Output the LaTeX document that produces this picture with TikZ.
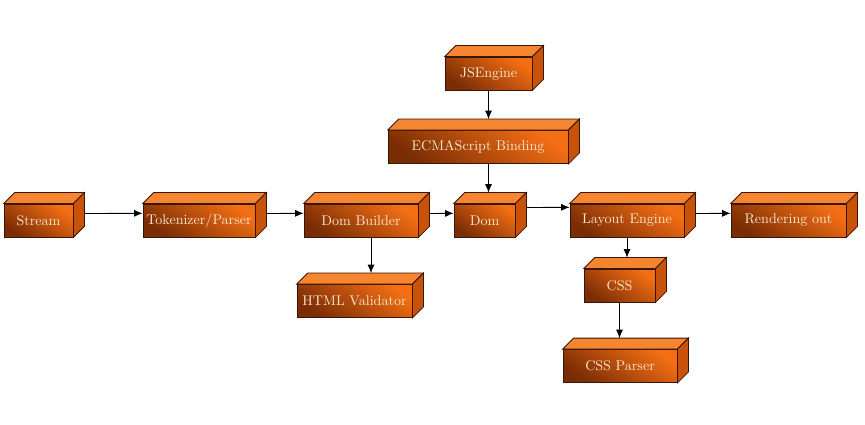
\documentclass[tikz,border=0pt]{standalone}
\usetikzlibrary{arrows.meta}

\definecolor{boxdark}{HTML}{7A2C04}
\definecolor{boxlight}{HTML}{F36E14}
\definecolor{boxtop}{HTML}{F5852E}
\definecolor{boxside}{HTML}{C9520A}
\definecolor{boxline}{HTML}{3A1606}
\definecolor{boxtext}{HTML}{F6E7CC}

\begin{document}
\begin{tikzpicture}[
x=0.025cm, y=-0.025cm,
block/.style={
draw=boxline,
line width=0.6pt,
top color=boxlight,
bottom color=boxdark,
shading angle=-35,
text=boxtext,
font=\fontsize{10}{12}\selectfont,
inner sep=0pt,
minimum height=33*0.025cm,
minimum width=#1*0.025cm
},
topface/.style={draw=boxline, line width=0.6pt, fill=boxtop},
sideface/.style={draw=boxline, line width=0.6pt, fill=boxside},
link/.style={-{Latex[length=6pt,width=5pt]}, line width=0.6pt}
]

\useasboundingbox (0,0) rectangle (865,425);

\node[block=87] (jsengine) at (488.5,73.5)
{JSEngine};

\node[block=180] (ecma) at (478,147)
{ECMAScript Binding};

\node[block=69] (stream) at (38.5,220.5)
{Stream};

\node[block=112] (tok) at (199,220.5)
{Tokenizer/Parser};

\node[block=114] (dombuilder) at (361,220.5)
{Dom Builder};

\node[block=61] (dom) at (484.5,220.5)
{Dom};

\node[block=114] (layout) at (627,220.5)
{Layout Engine};

\node[block=115] (render) at (788.5,220.5)
{Rendering out};

\node[block=115] (html) at (354.5,301)
{HTML Validator};

\node[block=71] (css) at (619.5,285.5)
{CSS};

\node[block=114] (cssparser) at (620,366)
{CSS Parser};

% top and right faces of the boxes
\foreach \n in {jsengine,ecma,stream,tok,dombuilder,dom,layout,render,html,css,cssparser}{
\draw[topface] (\n.north west) -- ++(11,-11) -- ([shift={(11,-11)}]\n.north east) -- (\n.north east) -- cycle;
\draw[sideface] (\n.north east) -- ++(11,-11) -- ([shift={(11,-11)}]\n.south east) -- (\n.south east) -- cycle;
\coordinate (\n-back) at ([shift={(0,-11)}]\n.north);
}

\draw[link] ([shift={(11,-7)}]stream.east) -- ([yshift=0.18cm]tok.west);
\draw[link] ([shift={(11,-7)}]tok.east) -- ([yshift=0.18cm]dombuilder.west);
\draw[link] ([shift={(11,-7)}]dombuilder.east) -- ([yshift=0.18cm]dom.west);
\draw[link] ([shift={(11,-13)}]dom.east) -- ([yshift=0.33cm]layout.west);
\draw[link] ([shift={(11,-7)}]layout.east) -- ([yshift=0.18cm]render.west);

\draw[link] (jsengine.south) -- (ecma-back -| jsengine.south);
\draw[link] (jsengine.south |- ecma.south) -- (dom-back -| jsengine.south);
\draw[link] ([xshift=0.25cm]dombuilder.south) coordinate (hv) -- (hv |- html-back);
\draw[link] (layout.south) -- (css-back -| layout.south);
\draw[link] (css.south) -- (cssparser-back -| css.south);

\end{tikzpicture}
\end{document}
